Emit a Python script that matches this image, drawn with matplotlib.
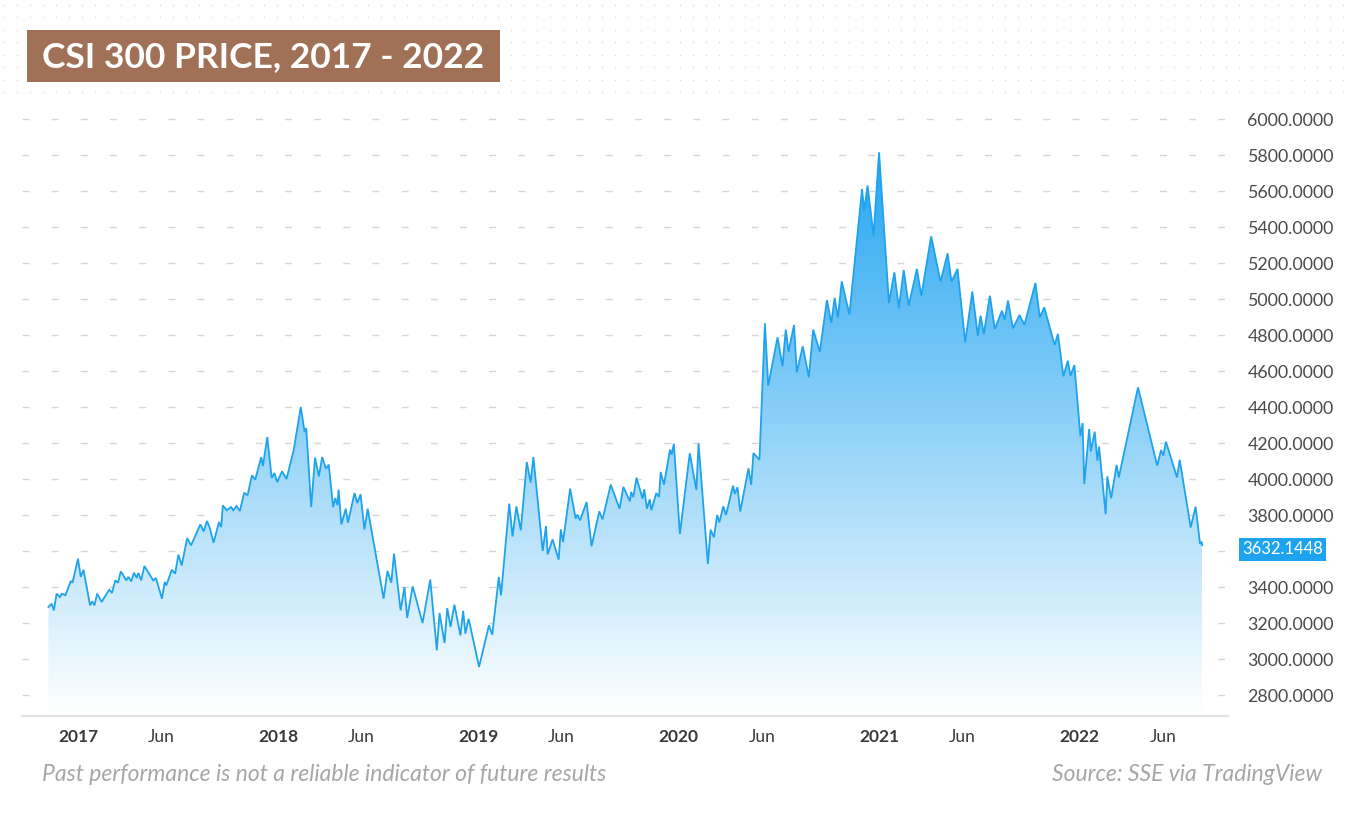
import numpy as np
import pandas as pd
import matplotlib
matplotlib.use("Agg")
import matplotlib.pyplot as plt
import matplotlib.dates as mdates
from matplotlib.colors import LinearSegmentedColormap
from matplotlib.patches import Rectangle

# weekly-ish closes
dates = [
    "2016-11-08", "2016-11-14", "2016-11-18", "2016-11-23", "2016-11-29", "2016-12-03", "2016-12-09",
    "2016-12-19", "2016-12-22",
    "2017-01-01", "2017-01-06", "2017-01-11", "2017-01-23", "2017-01-27", "2017-01-31", "2017-02-05",
    "2017-02-13", "2017-02-27", "2017-03-04", "2017-03-10", "2017-03-15", "2017-03-20", "2017-03-30",
    "2017-04-03", "2017-04-08", "2017-04-13", "2017-04-18", "2017-04-21", "2017-04-26", "2017-05-02",
    "2017-05-18", "2017-05-23", "2017-06-03", "2017-06-08", "2017-06-11", "2017-06-21", "2017-06-27",
    "2017-07-03", "2017-07-09", "2017-07-19", "2017-07-26", "2017-08-12", "2017-08-18", "2017-08-24",
    "2017-08-29", "2017-09-05", "2017-09-15", "2017-09-19", "2017-09-22", "2017-09-29", "2017-10-07",
    "2017-10-11", "2017-10-17", "2017-10-23", "2017-10-31", "2017-11-06", "2017-11-14", "2017-11-20",
    "2017-12-01", "2017-12-04", "2017-12-12", "2017-12-20", "2017-12-25", "2017-12-30",
    "2018-01-08", "2018-01-16", "2018-01-29", "2018-02-11", "2018-02-18", "2018-02-21", "2018-03-02",
    "2018-03-09", "2018-03-16", "2018-03-22", "2018-03-29", "2018-04-03", "2018-04-11", "2018-04-15",
    "2018-04-19", "2018-04-21", "2018-04-26", "2018-05-04", "2018-05-08", "2018-05-20", "2018-05-25",
    "2018-05-31", "2018-06-07", "2018-06-13", "2018-07-12", "2018-07-19", "2018-07-26", "2018-07-31",
    "2018-08-12", "2018-08-19", "2018-08-24", "2018-09-03", "2018-09-21", "2018-10-05", "2018-10-17",
    "2018-10-22", "2018-10-31", "2018-11-05", "2018-11-11", "2018-11-18", "2018-11-29", "2018-12-04",
    "2018-12-08", "2018-12-14",
    "2019-01-02", "2019-01-20", "2019-01-26", "2019-02-07", "2019-02-11", "2019-02-26", "2019-03-04",
    "2019-03-11", "2019-03-19", "2019-03-30", "2019-04-06", "2019-04-11", "2019-04-28", "2019-05-04",
    "2019-05-07", "2019-05-16", "2019-05-27", "2019-05-31", "2019-06-04", "2019-06-17", "2019-06-27",
    "2019-06-30", "2019-07-05", "2019-07-17", "2019-07-26", "2019-08-09", "2019-08-15", "2019-08-30",
    "2019-09-15", "2019-09-22", "2019-10-04", "2019-10-06", "2019-10-10", "2019-10-16", "2019-10-27",
    "2019-10-30", "2019-11-04", "2019-11-09", "2019-11-12", "2019-11-21", "2019-11-26", "2019-11-29",
    "2019-12-05", "2019-12-16", "2019-12-19", "2019-12-23",
    "2020-01-03", "2020-01-21", "2020-02-02", "2020-02-06", "2020-02-23", "2020-02-28", "2020-03-05",
    "2020-03-11", "2020-03-15", "2020-03-22", "2020-03-27", "2020-04-09", "2020-04-12", "2020-04-17",
    "2020-04-22", "2020-05-07", "2020-05-12", "2020-05-16", "2020-05-27", "2020-06-06", "2020-06-12",
    "2020-06-29", "2020-07-08", "2020-07-14", "2020-07-19", "2020-07-29", "2020-08-03", "2020-08-14",
    "2020-08-25", "2020-09-02", "2020-09-14", "2020-09-27", "2020-10-05", "2020-10-11", "2020-10-17",
    "2020-10-24", "2020-11-07", "2020-11-30", "2020-12-04", "2020-12-10", "2020-12-21", "2020-12-31",
    "2021-01-18", "2021-01-28", "2021-02-05", "2021-02-14", "2021-02-23", "2021-03-10", "2021-03-18",
    "2021-04-05", "2021-04-22", "2021-05-05", "2021-05-12", "2021-05-23", "2021-06-06", "2021-06-19",
    "2021-06-29", "2021-07-04", "2021-07-10", "2021-07-21", "2021-07-30", "2021-08-12", "2021-08-17",
    "2021-08-23", "2021-09-01", "2021-09-13", "2021-09-22", "2021-10-12", "2021-10-20", "2021-10-28",
    "2021-11-16", "2021-11-22", "2021-12-02", "2021-12-10", "2021-12-15", "2021-12-22",
    "2022-01-02", "2022-01-06", "2022-01-09", "2022-01-18", "2022-01-21", "2022-01-28", "2022-02-02",
    "2022-02-05", "2022-02-17", "2022-02-20", "2022-02-27", "2022-03-09", "2022-03-13", "2022-04-17",
    "2022-05-22", "2022-05-29", "2022-06-02", "2022-06-07", "2022-06-27", "2022-07-02", "2022-07-22",
    "2022-07-31", "2022-08-08", "2022-08-11", "2022-08-12",
]
prices = [
    3289, 3307, 3270, 3363, 3344, 3363, 3354, 3433, 3424,
    3557, 3456, 3496, 3298, 3320, 3298, 3363, 3317, 3385, 3367, 3437, 3424, 3487, 3437,
    3456, 3431, 3480, 3450, 3478, 3437, 3517, 3437, 3450, 3335, 3428, 3409, 3496, 3474,
    3580, 3520, 3672, 3631, 3748, 3709, 3767, 3730, 3646, 3761, 3733, 3854, 3826, 3844,
    3826, 3850, 3822, 3924, 3909, 4020, 3996, 4122, 4072, 4233, 4006, 4033, 3983,
    4043, 4000, 4159, 4400, 4261, 4283, 3844, 4119, 4015, 4122, 4057, 4080, 3844, 3894,
    3854, 3941, 3748, 3835, 3757, 3922, 3867, 3915, 3720, 3835, 3335, 3489, 3424, 3585,
    3270, 3400, 3228, 3404, 3200, 3441, 3048, 3255, 3089, 3283, 3178, 3302, 3131, 3267,
    3141, 3224,
    2956, 3187, 3135, 3456, 3354, 3863, 3681, 3848, 3715, 4094, 3980, 4122, 3600, 3739,
    3581, 3665, 3552, 3720, 3650, 3946, 3780, 3802, 3770, 3872, 3626, 3820, 3776, 3969,
    3835, 3956, 3876, 3928, 3900, 4007, 3891, 3943, 3835, 3887, 3826, 3922, 3900, 4039,
    3969, 4163, 4135, 4196,
    3694, 4143, 3939, 4198, 3528, 3718, 3676, 3800, 3759, 3848, 3800, 3963, 3917, 3954,
    3819, 4059, 3967, 4144, 4107, 4865, 4518, 4787, 4626, 4830, 4707, 4856, 4593, 4737,
    4565, 4830, 4707, 4994, 4867, 5006, 4898, 5098, 4913, 5611, 5491, 5630, 5352, 5815,
    4978, 5148, 4948, 5161, 4963, 5167, 5018, 5348, 5096, 5254, 5096, 5167, 4759, 5041,
    4796, 4907, 4806, 5018, 4833, 4935, 4885, 4991, 4837, 4911, 4857, 5089, 4898, 4954,
    4744, 4806, 4570, 4657, 4574, 4633,
    4237, 4311, 3972, 4278, 4154, 4263, 4102, 4180, 3805, 4015, 3893, 4078, 4009, 4509,
    4074, 4161, 4130, 4207, 4009, 4106, 3731, 3846, 3639, 3652, 3632.1448,
]

y_ticks = list(range(2800, 6001, 200))
year_ticks = ["2017-01-01", "2018-01-01", "2019-01-01", "2020-01-01", "2021-01-01", "2022-01-01"]
year_labels = ["2017", "2018", "2019", "2020", "2021", "2022"]
jun_ticks = ["2017-06-01", "2018-06-01", "2019-06-01", "2020-06-01", "2021-06-01", "2022-06-01"]

title = "CSI 300 PRICE, 2017 - 2022"
note = "Past performance is not a reliable indicator of future results"
source = "Source: SSE via TradingView"

LINE = "#1fa3ec"
FONT = "Lato"
W, H = 1350, 813

plt.rcParams["font.family"] = [FONT, "DejaVu Sans"]

fig = plt.figure(figsize=(W / 100, H / 100), dpi=100)

# background layer in pixel coordinates (dots, title box, footer)
bg = fig.add_axes([0, 0, 1, 1], zorder=0)
bg.set_xlim(0, W)
bg.set_ylim(H, 0)
bg.axis("off")
gx, gy = np.meshgrid(np.arange(4, W, 13), np.arange(5, 100, 12.5))
bg.scatter(gx.ravel(), gy.ravel(), s=1.4, color="#dedede", linewidths=0)
bg.add_patch(Rectangle((27, 30), 473, 52, facecolor="#a07156", edgecolor="none", zorder=2))
bg.text(42, 57, title, color="white", fontsize=25.5, fontweight="bold", va="center", ha="left", zorder=3)
bg.text(42, 774, note, color="#a6a6a6", fontsize=16.5, style="italic", va="center", ha="left")
bg.text(1322, 774, source, color="#a6a6a6", fontsize=16.5, style="italic", va="center", ha="right")

# main chart
ax = fig.add_axes([22 / W, 1 - 716 / H, (1228 - 22) / W, (716 - 100) / H], zorder=1)
ax.patch.set_alpha(0)

x = mdates.date2num(pd.to_datetime(dates))
y = np.array(prices, dtype=float)

px_per_day = 200.4 / 365.25
x0 = mdates.date2num(pd.Timestamp("2017-01-01"))
xmin = x0 - (78 - 22) / px_per_day
xmax = x0 + (1228 - 78) / px_per_day
ymin = 6000 - (716 - 119) / 0.18
ymax = 6000 + (119 - 100) / 0.18
ax.set_xlim(xmin, xmax)
ax.set_ylim(ymin, ymax)

for v in y_ticks:
    ax.axhline(v, color="#d6d6d6", lw=1.0, dashes=(5, 16), zorder=0)

# gradient fill clipped to the area under the line
fill = ax.fill_between(x, y, ymin, facecolor="none", edgecolor="none")
cmap = LinearSegmentedColormap.from_list("fade", ["#ffffff", "#25a6f1"])
grad = np.linspace(0, 1, 256).reshape(-1, 1)
img = ax.imshow(grad, cmap=cmap, origin="lower", aspect="auto",
                extent=[x[0], x[-1], ymin, y.max()], zorder=1, interpolation="bilinear")
img.set_clip_path(fill.get_paths()[0], transform=ax.transData)

ax.plot(x, y, color=LINE, lw=1.3, zorder=2, solid_joinstyle="miter")

for s in ["top", "left", "right"]:
    ax.spines[s].set_visible(False)
ax.spines["bottom"].set_color("#e2e2e2")
ax.spines["bottom"].set_linewidth(1.5)

# the last-price tag replaces the 3600 label
last = prices[-1]
ax.yaxis.tick_right()
ax.set_yticks(y_ticks)
ax.set_yticklabels(["" if abs(v - last) < 100 else f"{v:.4f}" for v in y_ticks])
ax.tick_params(axis="y", length=0, pad=14, labelsize=12.8, labelcolor="#4a4a4a")

xt = list(mdates.date2num(pd.to_datetime(year_ticks))) + list(mdates.date2num(pd.to_datetime(jun_ticks)))
ax.set_xticks(xt)
ax.set_xticklabels(year_labels + ["Jun"] * len(jun_ticks))
ax.tick_params(axis="x", length=0, pad=9, labelsize=12.5, labelcolor="#3a3a3a")
for lab in ax.get_xticklabels()[:len(year_labels)]:
    lab.set_fontweight("bold")

ax.annotate(f"{last:.4f}", xy=(1.0117, last), xycoords=ax.get_yaxis_transform(),
            xytext=(0, -3), textcoords="offset points", color="white",
            fontsize=12, va="center", ha="left",
            bbox=dict(boxstyle="square,pad=0.2", facecolor="#1ea3ef", edgecolor="none"))

fig.savefig("out.png", dpi=100)
